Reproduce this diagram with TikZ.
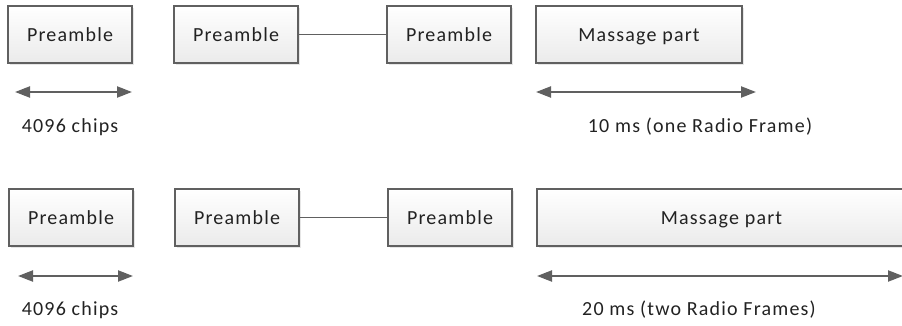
\documentclass[tikz,border=0pt]{standalone}
\usepackage{fontspec}
\setmainfont[LetterSpace=6]{Carlito}
\usepackage{xcolor}
\usetikzlibrary{positioning,arrows.meta,shadows}
\definecolor{edgegray}{HTML}{606060}
\definecolor{inkgray}{HTML}{222222}

\begin{document}
\begin{tikzpicture}[
  x=1pt, y=1pt,
  every node/.style={font=\fontsize{20}{24}\selectfont, text=inkgray},
  blk/.style={draw=edgegray, line width=1.5pt,
              top color=white, bottom color=gray!16,
              minimum height=57pt, inner sep=0pt, outer sep=0pt,
              text height=15pt, text depth=1pt,
              drop shadow={opacity=0.2, shadow xshift=1.5pt, shadow yshift=-2pt}},
  pre/.style={blk, minimum width=124pt},
  link/.style={draw=edgegray, line width=1.6pt},
  span/.style={{Triangle[length=15pt,width=11pt]}-{Triangle[length=15pt,width=11pt]},
               draw=edgegray, line width=2.2pt},
  node distance=42pt
]
\useasboundingbox (0,0) rectangle (902,-326);

%% row 1: one radio frame
\node[pre] (preA) at (70,-34.5) {Preamble};
\node[pre, right=of preA] (preB) {Preamble};
\node[pre, right=89pt of preB] (preC) {Preamble};
\node[blk, minimum width=206pt, right=25pt of preC] (msgA) {Massage part};

\draw[link] (preB) -- (preC);

\draw[span] ([xshift=7pt,yshift=-29pt]preA.south west) -- ([yshift=-29pt]preA.south east);
\draw[span] ([yshift=-29pt]msgA.south west) -- ([xshift=14pt,yshift=-29pt]msgA.south east);

\node (chipsA) at (70,-127) {4096 chips};
\node (timeA) at (700,-127) {10 ms (one Radio Frame)};

%% row 2: two radio frames
\node[pre] (preD) at (71,-217.5) {Preamble};
\node[pre, right=of preD] (preE) {Preamble};
\node[pre, right=89pt of preE] (preF) {Preamble};
\node[blk, minimum width=369pt, right=25pt of preF] (msgB) {Massage part};

\draw[link] (preE) -- (preF);

\draw[span] ([xshift=9pt,yshift=-30pt]preD.south west) -- ([yshift=-30pt]preD.south east);
\draw[span] ([yshift=-30pt]msgB.south west) -- ([xshift=-3pt,yshift=-30pt]msgB.south east);

\node (chipsB) at (70,-310) {4096 chips};
\node (timeB) at (699,-310) {20 ms (two Radio Frames)};

\end{tikzpicture}
\end{document}
